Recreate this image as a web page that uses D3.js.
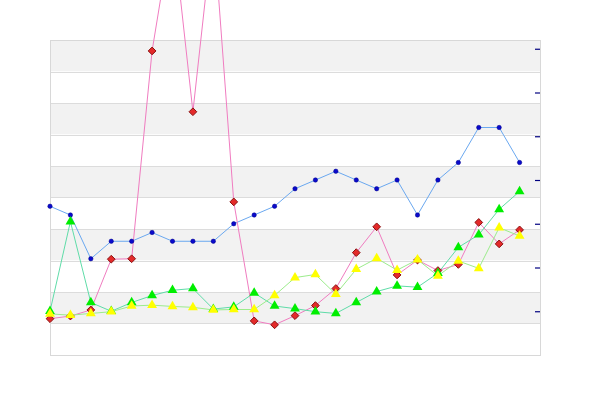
<!DOCTYPE html>
<html>
<head>
<meta charset="utf-8">
<script src="https://cdn.jsdelivr.net/npm/d3@7"></script>
<style>
html,body{margin:0;padding:0;background:#fff;}
svg{display:block;}
</style>
</head>
<body>
<svg id="chart" width="600" height="400"></svg>
<script>
// Data (24 points per series)
const indices = d3.range(24);
const blueValues   = [2.4, 2.2, 1.2, 1.6, 1.6, 1.8, 1.6, 1.6, 1.6, 2.0, 2.2, 2.4, 2.8, 3.0, 3.2, 3.0, 2.8, 3.0, 2.2, 3.0, 3.4, 4.2, 4.2, 3.4];
const redValues    = [-0.17, -0.11, 0.03, 1.19, 1.2, 5.95, 8.8, 4.56, 8.8, 2.5, -0.22, -0.31, -0.1, 0.13, 0.52, 1.34, 1.93, 0.83, 1.17, 0.93, 1.07, 2.03, 1.54, 1.86];
const greenValues  = [0.0, 2.05, 0.2, 0.0, 0.2, 0.36, 0.48, 0.52, 0.05, 0.1, 0.42, 0.12, 0.06, -0.01, -0.05, 0.2, 0.45, 0.58, 0.55, 0.87, 1.46, 1.75, 2.33, 2.74];
const yellowValues = [-0.06, -0.09, -0.05, -0.01, 0.12, 0.14, 0.11, 0.09, 0.03, 0.04, 0.04, 0.36, 0.77, 0.84, 0.39, 0.96, 1.21, 0.94, 1.18, 0.81, 1.15, 0.98, 1.91, 1.72];
const tickValues = [0, 1, 2, 3, 4, 5, 6];
const yDomain = [-1, 6.2];
const xDomain = [0, 24];

(function () {
const svg = d3.select("#chart");
const pLeft = 50, pRight = 540, pTop = 40, pBottom = 355;

const x = d3.scaleLinear().domain(xDomain).range([pLeft, pRight]);
const y = d3.scaleLinear().domain(yDomain).range([pBottom, pTop]);

// Alternating bands (10 bands)
const nb = 10;
const bandStep = (yDomain[1] - yDomain[0]) / nb;
const bands = d3.range(nb).map(i => yDomain[1] - i * bandStep);
svg.append("g").selectAll("rect").data(bands).join("rect")
  .attr("x", pLeft).attr("width", pRight - pLeft)
  .attr("y", d => y(d)).attr("height", d => y(d - bandStep) - y(d))
  .attr("fill", (d, i) => i % 2 === 0 ? "#f2f2f2" : "#ffffff");
svg.append("g").selectAll("line").data(bands.slice(1)).join("line")
  .attr("x1", pLeft).attr("x2", pRight)
  .attr("y1", d => Math.round(y(d)) + 0.5).attr("y2", d => Math.round(y(d)) + 0.5)
  .attr("stroke", "#dcdcdc").attr("stroke-width", 1);

// Plot border
svg.append("rect").attr("x", pLeft + 0.5).attr("y", pTop + 0.5)
  .attr("width", pRight - pLeft).attr("height", pBottom - pTop)
  .attr("fill", "none").attr("stroke", "#d8d8d8");

// Right-side ticks (no labels)
const axis = d3.axisLeft(y).tickValues(tickValues).tickSize(5).tickFormat("");
const ag = svg.append("g").attr("transform", `translate(${pRight},0)`).call(axis);
ag.select(".domain").remove();
ag.selectAll(".tick line").attr("stroke", "#000080").attr("stroke-width", 1.2);

const line = d3.line().x((d, i) => x(i)).y(d => y(d));

function drawLine(vals, color) {
  svg.append("path").datum(vals).attr("d", line)
    .attr("fill", "none").attr("stroke", color).attr("stroke-width", 1);
}

drawLine(blueValues, "#6aa8f0");
drawLine(redValues, "#f07cc0");
drawLine(greenValues, "#5fdca8");
drawLine(yellowValues, "#9cec8c");

// markers
svg.append("g").selectAll("circle").data(blueValues).join("circle")
  .attr("cx", (d, i) => x(i)).attr("cy", d => y(d)).attr("r", 2.2)
  .attr("fill", "#0a0acc").attr("stroke", "#000088").attr("stroke-width", 0.5);

const diamond = d3.symbol().type(d3.symbolDiamond2).size(38);
svg.append("g").selectAll("path").data(redValues).join("path")
  .attr("transform", (d, i) => `translate(${x(i)},${y(d)})`)
  .attr("d", diamond)
  .attr("fill", "#e42a2a").attr("stroke", "#8a1010").attr("stroke-width", 1);

const tri = d3.symbol().type(d3.symbolTriangle).size(42);
svg.append("g").selectAll("path").data(greenValues).join("path")
  .attr("transform", (d, i) => `translate(${x(i)},${y(d)})`)
  .attr("d", tri).attr("fill", "#00ee00");
svg.append("g").selectAll("path").data(yellowValues).join("path")
  .attr("transform", (d, i) => `translate(${x(i)},${y(d)})`)
  .attr("d", tri).attr("fill", "#ffff00");
})();
</script>
</body>
</html>
